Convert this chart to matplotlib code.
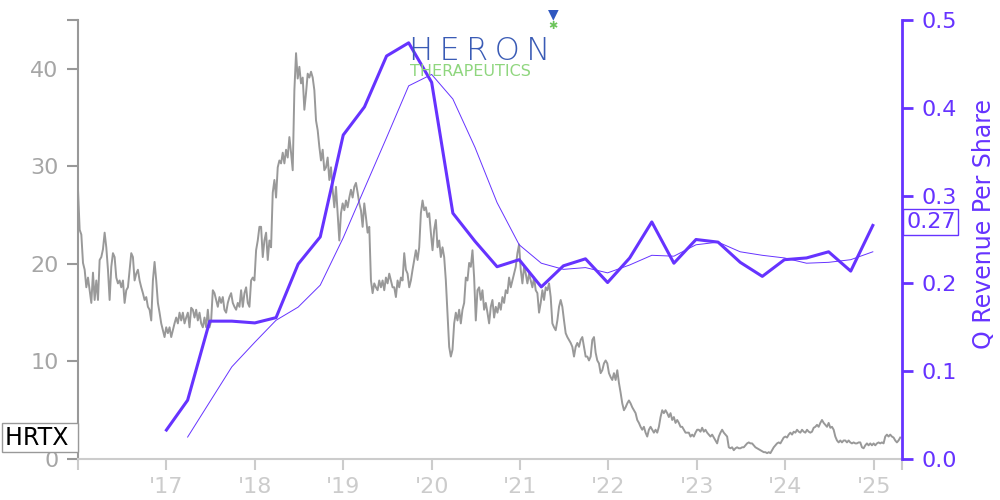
import numpy as np
import pandas as pd
import matplotlib
matplotlib.use('Agg')
import matplotlib.pyplot as plt
import matplotlib.transforms as mtransforms

PURPLE = '#6633ff'
GRAY = '#999999'
LIGHT = '#cccccc'

# weekly closing price (USD), Jan 2016 -> Apr 2025
price = [
    # 2016 .. mid 2017
    27.6, 23.5, 23.0, 20.1, 19.4, 17.6, 18.6, 17.3, 16.0, 19.1, 16.3, 18.3, 16.3, 20.4, 20.7, 21.5,
    23.2, 21.7, 19.4, 16.3, 19.7, 21.1, 20.7, 18.6, 18.0, 18.3, 17.6, 18.3, 16.0, 17.3, 17.6, 19.4,
    21.1, 20.7, 18.3, 19.0, 19.4, 18.3, 17.6, 17.0, 16.3, 16.6, 15.6, 15.3, 14.2, 18.3, 20.2, 18.3,
    16.0, 15.0, 13.9, 13.2, 12.5, 13.5, 12.9, 13.5, 12.5, 13.2, 13.9, 14.5, 13.9, 15.0, 14.2, 15.0,
    13.9, 14.5, 15.0, 13.5, 15.5, 15.3, 14.5, 15.3, 14.2, 15.0, 13.9, 13.5, 14.5, 13.5, 15.3, 13.5,
    14.2, 17.3, 17.0, 16.3, 15.6, 16.6, 16.0, 16.6, 15.3, 15.0, 16.0, 16.6, 17.0, 16.0, 15.6, 15.3,
    16.0,
    # late 2017 .. mid 2019
    15.6, 17.3, 15.6, 17.0, 17.6, 16.0, 15.6, 18.3, 18.6, 18.3, 21.4, 22.4, 23.8, 23.8, 20.7, 22.4,
    23.2, 20.4, 22.4, 21.7, 27.3, 28.6, 26.8, 29.9, 30.6, 30.3, 31.4, 30.3, 31.7, 30.9, 33.0, 31.4,
    29.6, 37.8, 41.6, 39.0, 40.2, 38.5, 39.1, 35.8, 37.5, 39.5, 39.1, 39.7, 39.1, 37.8, 34.7, 33.7,
    32.0, 30.6, 31.7, 29.6, 29.9, 30.9, 28.6, 29.9, 27.6, 25.8, 27.9, 25.2, 22.4, 25.2, 26.2, 25.5,
    26.5, 25.8, 26.8, 27.6, 26.8, 27.9, 28.3, 27.3, 26.2, 25.5, 23.8, 26.2, 24.8, 23.2, 23.8, 18.3,
    17.0, 18.0, 17.6, 17.3, 18.3, 17.6, 18.3, 17.3, 18.6, 18.0, 19.0, 18.3, 17.6,
    # mid 2019 .. early 2021
    17.6, 16.6, 18.3, 17.6, 18.6, 18.3, 21.1, 19.4, 19.0, 17.6, 18.3, 19.4, 20.4, 21.4, 20.4, 21.7,
    25.2, 26.5, 25.5, 25.8, 24.8, 25.2, 23.2, 21.4, 23.5, 24.5, 21.7, 22.4, 20.7, 21.7, 20.7, 18.3,
    15.0, 11.5, 10.5, 11.2, 13.9, 15.0, 14.2, 15.3, 13.9, 15.3, 16.0, 18.6, 18.3, 20.1, 19.7, 21.4,
    18.6, 14.2, 17.3, 17.6, 16.3, 17.3, 15.3, 16.0, 15.0, 13.9, 15.6, 16.3, 14.5, 15.6, 15.0, 16.0,
    15.3, 16.6, 16.0, 17.3, 17.0, 18.6, 17.6, 18.3, 19.0, 19.7, 21.1, 22.0, 19.4, 18.0, 19.7, 19.0,
    18.0, 19.0, 18.3, 17.6, 18.6, 17.3, 17.0, 15.0, 16.0, 17.3,
    # 2021 .. 2022
    16.3, 17.6, 17.3, 18.0, 16.6, 13.9, 13.5, 13.2, 14.2, 15.6, 16.3, 15.6, 14.2, 12.9, 12.5, 12.2,
    11.9, 11.5, 10.5, 11.5, 11.9, 11.5, 12.2, 12.5, 11.5, 10.5, 10.5, 10.1, 10.5, 12.2, 12.5, 10.9,
    10.1, 9.8, 8.8, 9.1, 9.8, 10.1, 9.8, 8.8, 8.4, 8.1, 8.8, 8.1, 9.1, 7.8, 6.8, 5.7,
    5.0, 5.3, 5.7, 6.0, 5.7, 5.3, 5.0, 4.7, 4.0, 3.7, 3.3, 3.0, 3.3, 2.7, 2.3, 3.0,
    3.3, 3.0, 2.7, 3.0, 2.7, 3.3, 4.3, 5.0, 4.7, 5.0, 4.7, 4.3, 4.7, 4.0, 4.3, 3.7,
    4.0, 3.7, 3.3, 3.3, 3.0, 2.7, 2.7, 2.7, 2.3, 2.5, 2.3, 2.7, 3.0,
    # 2023 .. 2025
    3.0, 2.8, 3.2, 2.8, 3.0, 2.7, 2.5, 2.3, 2.5, 2.2, 1.9, 1.6, 2.3, 2.7, 3.0, 2.7,
    2.5, 2.3, 1.2, 1.1, 1.2, 0.9, 1.1, 1.2, 1.1, 1.1, 1.2, 1.2, 1.4, 1.6, 1.7, 1.6,
    1.6, 1.4, 1.2, 1.1, 1.0, 0.9, 0.8, 0.7, 0.7, 0.6, 0.7, 0.6, 0.9, 1.2, 1.4, 1.6,
    1.7, 1.6, 1.9, 2.2, 2.3, 2.2, 2.5, 2.7, 2.5, 2.8, 2.7, 3.0, 2.8, 2.7, 3.0, 2.8,
    2.7, 3.0, 2.8, 2.7, 2.8, 3.2, 3.3, 3.5, 3.3, 3.7, 4.0, 3.7, 3.5, 3.3, 3.7, 3.2,
    3.3, 3.0, 2.3, 1.9, 1.7, 1.9, 1.7, 1.9, 1.9, 1.7, 1.9, 1.7, 1.6, 1.7, 1.6, 1.6,
    1.7, 1.7, 1.2, 1.1, 1.4, 1.6, 1.4, 1.6, 1.4, 1.6, 1.4, 1.6, 1.7, 1.6, 1.7, 1.6,
    2.3, 2.5, 2.3, 2.5, 2.3, 2.2, 1.9, 1.7, 1.9, 2.2,
]
price_start, price_end = 2016.0, 2025.3

# quarterly revenue per share
rev_t = [2017.0, 2017.24, 2017.49, 2017.74, 2018.0, 2018.24, 2018.49, 2018.74, 2019.0,
         2019.24, 2019.49, 2019.74, 2020.0, 2020.24, 2020.49, 2020.74, 2020.99, 2021.24,
         2021.49, 2021.74, 2021.99, 2022.24, 2022.49, 2022.74, 2022.99, 2023.24, 2023.49,
         2023.74, 2023.99, 2024.24, 2024.49, 2024.74, 2024.99]
rev = [0.033, 0.067, 0.157, 0.157, 0.155, 0.161, 0.222, 0.253, 0.369, 0.401, 0.459,
       0.474, 0.429, 0.280, 0.248, 0.219, 0.227, 0.196, 0.220, 0.228, 0.201, 0.229,
       0.270, 0.223, 0.250, 0.247, 0.224, 0.208, 0.227, 0.229, 0.236, 0.214, 0.266]

# trailing average (thin line)
avg_t = rev_t[1:]
avg = [0.025, 0.065, 0.105, 0.133, 0.158, 0.173, 0.198, 0.252, 0.308, 0.366, 0.425,
       0.438, 0.410, 0.355, 0.292, 0.244, 0.223, 0.216, 0.218, 0.212, 0.221, 0.232,
       0.231, 0.244, 0.247, 0.236, 0.232, 0.229, 0.223, 0.224, 0.227, 0.236]

years = list(range(2017, 2026))
year_labels = ["'%d" % (y % 100) for y in years]
x_lo, x_hi = 2016.0, 2025.32

price_t = np.linspace(price_start, price_end, len(price))

fig = plt.figure(figsize=(10, 5), dpi=100)
ax = fig.add_axes([0.078, 0.082, 0.824, 0.878])
ax2 = ax.twinx()

ax.plot(price_t, price, color=GRAY, lw=1.4)
ax2.plot(rev_t, rev, color=PURPLE, lw=2.2)
ax2.plot(avg_t, avg, color=PURPLE, lw=0.7)

ax.set_xlim(x_lo, x_hi)
ax.set_ylim(0, 45)
ax2.set_ylim(0, 0.5)

fs = 16
ax.set_yticks([0, 10, 20, 30, 40, 45])
ax.set_yticklabels(['0', '10', '20', '30', '40', ''])
ax.tick_params(axis='y', colors=GRAY, labelcolor='#a6a6a6', length=8, width=1.5,
               pad=6, labelsize=fs)
ax.set_xticks([x_lo] + years + [x_hi])
ax.set_xticklabels([''] + year_labels + [''])
ax.tick_params(axis='x', colors=LIGHT, labelcolor=LIGHT, length=8, width=1.5,
               pad=5, labelsize=fs)

ax2.set_yticks(np.arange(0, 0.51, 0.1))
ax2.set_yticklabels(['%.1f' % v for v in np.arange(0, 0.51, 0.1)])
ax2.tick_params(axis='y', colors=PURPLE, labelcolor=PURPLE, length=8, width=2,
                pad=6, labelsize=fs)
ax2.set_ylabel('Q Revenue Per Share', color=PURPLE, fontsize=17)
ax2.yaxis.set_label_coords(1.085, 0.535)

for a in (ax, ax2):
    a.spines['top'].set_visible(False)
ax.spines['right'].set_visible(False)
ax2.spines['left'].set_visible(False)
ax2.spines['bottom'].set_visible(False)
ax.spines['left'].set_color(GRAY)
ax.spines['left'].set_linewidth(1.5)
ax.spines['bottom'].set_color(LIGHT)
ax.spines['bottom'].set_linewidth(1.5)
ax2.spines['right'].set_color(PURPLE)
ax2.spines['right'].set_linewidth(2)

# last value labels
trans_l = mtransforms.blended_transform_factory(ax.transAxes, ax.transData)
ax.text(-0.003, price[-1], 'HRTX ', transform=trans_l, ha='right', va='center',
        fontsize=17, color='black',
        bbox=dict(boxstyle='square,pad=0.12', fc='white', ec=GRAY, lw=1))
trans_r = mtransforms.blended_transform_factory(ax2.transAxes, ax2.transData)
ax2.text(1.005, round(rev[-1], 2), '%.2f' % rev[-1], transform=trans_r, ha='left',
         va='center', fontsize=fs, color=PURPLE,
         bbox=dict(boxstyle='square,pad=0.12', fc='white', ec=PURPLE, lw=1))

# company logo
fig.text(0.409, 0.881, 'H\u2009E\u2009R\u2009O\u2009N', fontsize=23, color='#3a5bb5',
         fontweight='light', ha='left', va='baseline', zorder=0)
fig.text(0.41, 0.848, 'THERAPEUTICS', fontsize=11.5, color='#8fd67e',
         ha='left', va='baseline', zorder=0)
fig.text(0.553, 0.972, '\u25bc', fontsize=10, color='#2f57c0', ha='center', va='center')
fig.text(0.553, 0.948, '\u2731', fontsize=8, color='#6cc45a', ha='center', va='center')

fig.savefig('out.png', dpi=100)
